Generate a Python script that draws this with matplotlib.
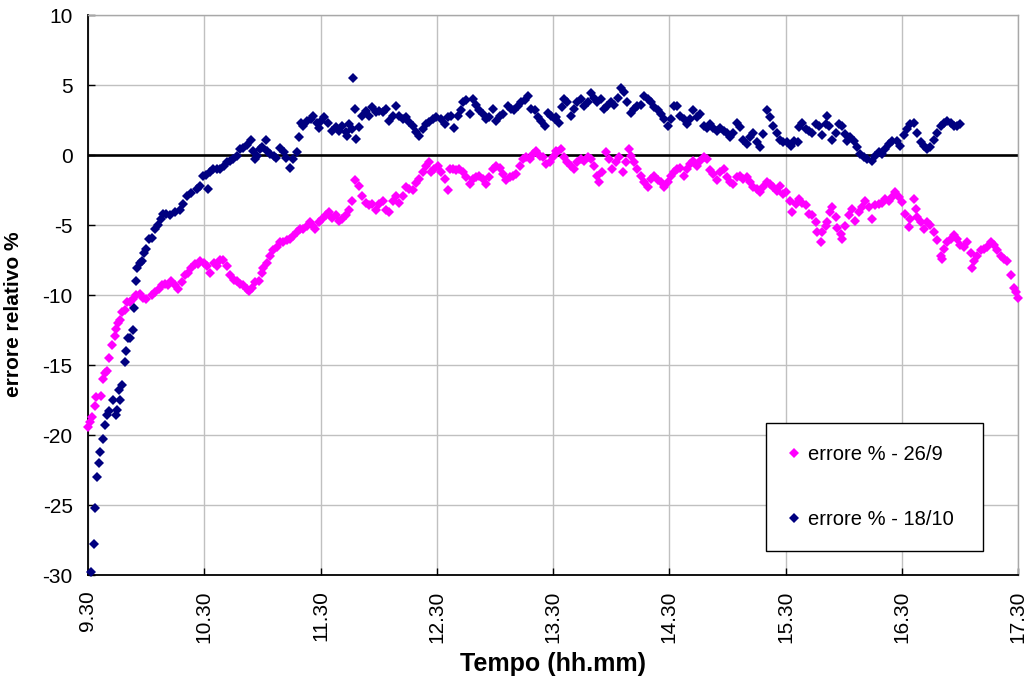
import matplotlib
matplotlib.use('Agg')
import matplotlib.pyplot as plt

# font simile ad Arial, segno meno normale come in Excel
plt.rcParams['font.family'] = ['Liberation Sans', 'DejaVu Sans']
plt.rcParams['axes.unicode_minus'] = False

# errore % del 26/9 : minuti dopo le 9.30 e valore letto
t_26_9 = [0, 0.9, 2, 3.5, 4.3, 6.6, 7.8, 8.6, 10, 10.7, 12.4, 13.8, 14.7, 15.5, 16.4, 17.6, 19, 20.3, 21.5, 23.3,
          25, 26.7, 28.4, 30, 32.8, 34.5, 36.6, 38, 39.7, 41.4, 43, 44.8, 46.6, 48.3, 50, 51.7, 53.4, 55.2, 56.9,
          57.9, 59.7, 61.4, 63.1, 64.8, 66.5, 68.2, 69.9, 71.7, 73.4, 75.1, 76.8, 78.5, 80.2, 82, 83.3, 84.5, 86.2,
          88, 89.7, 90.5, 92.2, 94, 95.7, 97.4, 99.1, 100.8, 102.5, 104.3, 106, 107.7, 109.4, 111.1, 112.8, 114.5,
          116.3, 117.4, 119.1, 120.9, 122.6, 124.3, 126, 127.8, 129.5, 131.2, 133, 134.7, 136.4, 137.8, 139.9,
          141.6, 143.4, 145.1, 146.8, 148.5, 150.3, 152, 153.7, 155.5, 157.2, 158.9, 160.7, 162.4, 164.1, 165.8,
          167.6, 169.3, 171, 172.8, 174.5, 176.2, 177, 178.8, 180.5, 182.2, 184, 185.7, 186.6, 188.3, 190, 191.7,
          193.4, 195.2, 196.9, 198.6, 200.3, 202, 203.8, 205.5, 207.2, 209, 210.7, 212.4, 214, 215.9, 217.6,
          219.3, 221, 222.8, 224.5, 226.2, 227.9, 229.7, 231.4, 233.1, 234.8, 236.6, 238.3, 240, 241.7, 242.2,
          244, 245.7, 247.4, 249.1, 250.9, 252.6, 254.3, 256, 257.8, 259.5, 261.2, 262.9, 263.8, 265.5, 267.2,
          269, 270.7, 272.4, 274.1, 275.9, 277.6, 279, 280.2, 281.9, 283.6, 285.3, 287.1, 288.8, 290.5, 292.2,
          294, 295.7, 297.4, 299.1, 300.9, 302.2, 303.9, 305.7, 307.4, 309.1, 310.8, 312.5, 314.2, 316, 317.7,
          319.4, 321.1, 322.8, 324.5, 326.2, 328, 329.7, 331.4, 333.1, 334.8, 336.5, 338.3, 340, 341.7, 343.4,
          345.1, 346.8, 348.5, 350.3, 352, 353.7, 355.4, 357.1, 358.8, 360.5, 362.3, 363.1, 365.3, 367, 368.7,
          370.4, 372.1, 373.8, 375.6, 376.4, 378.1, 379, 380.7, 381.5, 383.2, 384.1, 385.8, 386.7, 388.4, 389.2,
          390.9, 392.6, 394.4, 396.1, 397.8, 399.5, 401.2, 402.9, 404.6, 406.3, 408, 409.7, 411.5, 413.2, 414.9,
          416.7, 418.4, 420.2, 421.9, 423.6, 424.5, 426.2, 427.1, 427.9, 429.7, 431.4, 433.1, 434.8, 436.6,
          438.3, 440, 440.9, 441.7, 443.4, 445.2, 446.9, 448.6, 450.3, 452.1, 453.8, 455.5, 456.4, 457.2, 459,
          460.7, 462.4, 464.1, 465.9, 467.6, 469.3, 471, 472.8, 474.5, 476.2, 477.9, 478.8, 480]
err_26_9 = [-19.4, -19.1, -18.7, -17.9, -17.3, -17.2, -16.0, -15.6, -15.4, -14.5, -13.6, -12.9, -12.4, -12.0, -11.8,
            -11.2, -11.1, -10.5, -10.5, -10.3, -10.0, -9.9, -10.2, -10.3, -10.0, -9.8, -9.6, -9.3, -9.2, -9.3, -9.0,
            -9.3, -9.6, -9.1, -8.6, -8.4, -8.1, -7.8, -7.8,
            -7.55, -7.7, -7.9, -8.4, -7.7, -7.9, -7.5, -7.5, -7.9, -8.6, -8.9, -9.0, -9.2, -9.3, -9.6, -9.7, -9.5,
            -9.1, -9.0, -8.4, -8.1, -7.7, -7.2, -6.8, -6.6, -6.2, -6.2, -6.1, -6.0, -5.8, -5.5, -5.3, -5.3, -5.05,
            -4.8, -5.05,
            -5.3, -4.8, -4.6, -4.3, -4.1, -4.5, -4.3, -4.7, -4.6, -4.3, -3.9, -3.3, -1.8, -2.2, -2.9, -3.4, -3.6,
            -3.5, -3.9, -3.5, -3.3, -3.9, -4.1, -3.3, -2.9, -3.4, -2.9, -2.3, -2.4, -2.5, -2.0, -1.7, -1.2, -0.8,
            -0.5,
            -1.24, -1.0, -0.76, -1.24, -1.7, -2.5, -1.0, -1.0, -1.1, -1.0, -1.24, -1.6, -2.1, -1.7, -1.6, -1.5, -1.7,
            -2.1, -1.6, -1.0, -0.76, -0.9, -1.36, -1.8, -1.6, -1.5, -1.36, -0.76, -0.3, -0.17, -0.3, 0.07, 0.3,
            -0.05, -0.17, -0.64, -0.5, -0.17, 0.3,
            0.2, 0.43, -0.17, -0.5, -0.76, -1.0, -0.5, -0.3, -0.4, -0.17, -0.3, -0.76, -1.5, -1.95, -1.24, 0.2,
            -0.3, -1.0, -0.5, -0.17, -1.24, -0.5, 0.43, -0.05, -0.5, -1.0, -1.5, -1.95, -2.3, -1.7, -1.5, -1.8,
            -1.95, -2.3, -1.95, -1.5,
            -1.24, -1.0, -0.9, -1.5, -1.0, -0.64, -0.4, -0.76, -0.4, -0.17, -0.3, -1.1, -1.36, -1.8, -1.24, -1.0,
            -1.6, -1.95, -2.07, -1.6, -1.5, -1.7, -1.6, -1.95, -2.3, -2.4, -2.67, -2.3, -1.95, -2.07, -2.3, -2.55,
            -2.2, -2.8, -2.67, -3.26, -4.1,
            -3.5, -3.14, -3.4, -3.6, -4.2, -4.3, -4.8, -5.5, -6.2, -5.5, -5.05, -4.8, -4.1, -3.74, -4.45, -5.2,
            -5.64, -6.0, -5.05, -4.3, -3.86, -4.7, -4.1, -3.74, -3.26, -3.74, -4.57, -3.6, -3.5, -3.4, -3.14, -3.26,
            -3.0,
            -2.65, -3.0, -3.36, -4.2, -5.14, -4.55, -3.13, -3.84, -4.43, -4.8, -5.26, -4.8, -5.0, -5.5, -6.1, -7.2,
            -7.4, -6.7, -6.2, -6.0, -5.7, -6.0, -6.45, -6.6, -6.2, -7.0, -8.1, -7.6, -7.2, -6.8, -6.7, -6.6, -6.2,
            -6.45, -6.8, -7.2, -7.4, -7.6, -8.6, -9.5, -9.8, -10.2]

# errore % del 18/10
t_18_10 = [1.7, 2.9, 3.8, 4.7, 5.5, 6.4, 7.9, 9, 10, 11, 13, 14.7, 15, 16, 16.4, 17.6, 19, 19.8, 20.5, 21.5, 23,
           23.8, 25, 25.5, 27, 28, 29, 30, 31.4, 32.8, 34.5, 35.9, 37.6, 38.8, 40.5, 42.5, 44.8, 47.4, 49, 51, 53,
           56, 58, 59.5, 60.7, 61.7,
           63, 64.5, 66.5, 68, 70, 71.7, 73.5, 75, 76.8, 78.5, 80, 82, 84, 85, 86, 87, 89, 89.7, 92, 92.5, 94, 96,
           97, 99, 101, 102, 104, 106, 108, 109, 110, 111, 113, 115, 116, 118, 119, 120.5, 122, 124,
           126, 127.8, 129.5, 131.2, 133, 133.8, 134.7, 136.4, 136.8, 137.8, 138.5, 139.9, 141.6, 143.4, 145.1,
           146.8, 148.5, 150.3, 152, 153.7, 155.5, 157.2, 158.9, 160.7, 162.4, 164.1, 165.8, 167.6, 169.3, 171,
           172.8, 174.5, 176.2, 178, 179.7, 182.3, 184,
           185.7, 187.4, 189, 190.9, 192.6, 193.4, 195.2, 196.9, 198.6, 200.3, 202, 203.8, 205.5, 207.2, 209,
           210.7, 212.4, 214, 216.7, 218.4, 220, 221.9, 223.6, 225.3, 227, 228.8, 230.5, 232.2, 234, 235.7, 237.4,
           239, 240.9,
           241.4, 243.1, 244.8, 245.7, 247.4, 249.1, 250.9, 252.6, 254.3, 256, 257.8, 259.5, 261.2, 262.9, 264.7,
           266.4, 268.1, 269.8, 271.6, 273.3, 275, 276.7, 278.4, 280.2, 281.9, 283.6, 285.3, 287.1, 288.8, 290.5,
           292.2, 294, 295.7, 297.4, 299.1, 300.9, 302.6,
           303.9, 305.7, 307.4, 309.1, 310.8, 312.5, 314.2, 316, 317.7, 319.4, 321.1, 322.8, 324.5, 326.2, 328,
           329.7, 331.4, 333.1, 334.8, 336.5, 338.3, 340, 341.7, 343.4, 345.1, 346.8, 348.5, 350.3, 352, 353.7,
           355.4, 357.1, 358.8,
           361, 362.7, 364.4, 366.2, 367, 368.7, 370.4, 372.1, 373.8, 375.6, 377.3, 379, 380.7, 381.5, 382.4,
           384.1, 385.8, 387.5, 389.2, 390.9, 391.8, 393.5, 395.2, 396.9, 398.6, 400.3, 402, 404.6, 406.3, 408,
           409.7, 411.5, 413.2, 414.9,
           417.6, 419.3, 421, 422.8, 424.5, 426.2, 427.9, 429.7, 431.4, 433.1, 434.8, 436.6, 438.3, 440, 441.7,
           443.4, 445.2, 446.9, 448.6, 450]
err_18_10 = [-29.8, -27.8, -25.2, -23.0, -22.0, -21.2, -20.3, -19.3, -18.6, -18.3, -17.5, -18.6, -18.2, -16.8, -17.5,
             -16.4, -14.8, -14.0, -13.1, -13.1, -12.5, -10.9, -9.0, -8.1, -7.7, -7.6, -7.0, -6.7, -6.0, -5.9, -5.3,
             -5.0, -4.6, -4.2, -4.2, -4.3, -4.1, -3.9, -3.5, -2.9, -2.7, -2.4, -2.2, -1.5, -1.4, -2.4,
             -1.2, -1.0, -1.0, -1.0, -0.8, -0.5, -0.4, -0.3, -0.05, 0.4, 0.5, 0.7, 1.1, 0.3, -0.3, -0.05, 0.4, 0.6,
             1.1, 0.3, 0.1, -0.05, -0.2, 0.5, 0.2, -0.2, -0.9, -0.3, 0.2, 1.3, 2.3, 2.1, 2.4, 2.6, 2.8, 2.3, 1.9,
             2.4, 2.7, 2.3,
             1.74, 1.98, 1.74, 2.1, 1.62, 1.38, 2.2, 1.86, 5.5, 3.3, 1.14, 1.98, 2.8, 3.17, 2.8, 3.4, 3.05, 3.17,
             3.05, 3.3, 2.45, 2.8, 3.5, 2.8, 2.57, 2.7, 2.33, 2.1, 1.62, 1.38, 1.86, 2.2, 2.33, 2.57, 2.7, 2.57, 2.2,
             2.7, 2.8, 1.9, 2.8, 3.2, 3.8, 3.9, 2.9, 4.0, 3.6, 3.2, 2.9, 2.6, 2.7, 3.3, 2.45, 2.8, 2.9, 3.5, 3.3,
             3.2, 3.5, 3.8, 3.9, 4.2, 3.3, 3.2, 2.7, 2.45, 2.1, 3.0, 2.8, 2.6,
             2.7, 2.3, 3.4, 4.0, 3.8, 2.8, 3.3, 3.8, 4.0, 3.5, 3.8, 4.4, 4.1, 3.8, 4.0, 3.3, 3.5, 3.8, 3.6, 4.1,
             4.8, 4.5, 3.8, 3.0, 3.3, 3.5, 3.6, 4.2, 4.0, 3.8, 3.4, 3.2, 2.9, 2.6, 2.1, 2.6, 3.5,
             3.5, 2.8, 2.6, 2.2, 2.6, 3.2, 2.7, 2.9, 2.1, 1.9, 2.2, 1.9, 1.7, 1.9, 1.7, 1.6, 1.3, 1.6, 2.3, 2.0,
             1.1, 0.8, 1.3, 1.6, 0.9, 0.55, 1.5, 3.2, 2.7, 2.1, 1.6, 1.1, 0.9,
             0.9, 0.67, 1.0, 0.9, 2.0, 2.3, 1.86, 1.74, 1.6, 2.2, 2.1, 1.4, 2.2, 2.8, 2.1, 1.1, 1.6, 2.2, 2.1, 1.5,
             1.0, 1.26, 1.0, 0.55, 0.07, -0.17, -0.3, -0.4, -0.05, 0.2, 0.07, 0.43, 0.8, 1.0,
             1.0, 0.67, 1.4, 1.86, 2.2, 2.3, 1.6, 0.9, 0.67, 0.43, 0.55, 1.1, 1.6, 2.1, 2.3, 2.4, 2.3, 2.1, 2.1,
             2.2]

ore_ticks = [9.5, 10.5, 11.5, 12.5, 13.5, 14.5, 15.5, 16.5, 17.5]
ore_labels = ['9.30', '10.30', '11.30', '12.30', '13.30', '14.30', '15.30', '16.30', '17.30']
y_ticks = [-30, -25, -20, -15, -10, -5, 0, 5, 10]

# minuti -> ore decimali
x_26_9 = [9.5 + m / 60 for m in t_26_9]
x_18_10 = [9.5 + m / 60 for m in t_18_10]

fig = plt.figure(figsize=(10.28, 6.86), dpi=100)
ax = fig.add_axes([0.0856, 0.1618, 0.9047, 0.8163])

# griglia grigia e asse dello zero nero
ax.grid(True, color='#c0c0c0', linewidth=1, zorder=0)
ax.set_axisbelow(True)
ax.axhline(0, color='black', linewidth=1.9, zorder=2)

ax.plot(x_26_9, err_26_9, linestyle='none', marker='D', markersize=5.6, markeredgewidth=0,
        color='#ff00ff', label='errore % - 26/9', zorder=3, clip_on=False)
ax.plot(x_18_10, err_18_10, linestyle='none', marker='D', markersize=5.6, markeredgewidth=0,
        color='#000080', label='errore % - 18/10', zorder=4, clip_on=False)

ax.set_xlim(9.5, 17.5)
ax.set_ylim(-30, 10)
ax.set_xticks(ore_ticks)
ax.set_xticklabels(ore_labels, rotation=90)
ax.set_yticks(y_ticks)
ax.tick_params(direction='in', length=5, width=1, labelsize=15, pad=11)

for side in ['left', 'bottom']:
    ax.spines[side].set_color('black')
    ax.spines[side].set_linewidth(1.3)
for side in ['top', 'right']:
    ax.spines[side].set_color('#a8a8a8')
    ax.spines[side].set_linewidth(1)

ax.set_xlabel('Tempo (hh.mm)', fontsize=18, fontweight='bold')
ax.set_ylabel('errore relativo %', fontsize=15, fontweight='bold')
ax.xaxis.set_label_coords(0.5, -0.137)
ax.yaxis.set_label_coords(-0.07, 0.466)

leg = ax.legend(loc='lower left', bbox_to_anchor=(0.729, 0.043, 0.233, 0.232), mode='expand',
                fontsize=14.5, frameon=True, fancybox=False, framealpha=1, edgecolor='black',
                borderpad=1.1, labelspacing=2.25, handlelength=0.6, handletextpad=0.4, borderaxespad=0)
leg.get_frame().set_linewidth(1)

plt.savefig('out.png', dpi=100)
